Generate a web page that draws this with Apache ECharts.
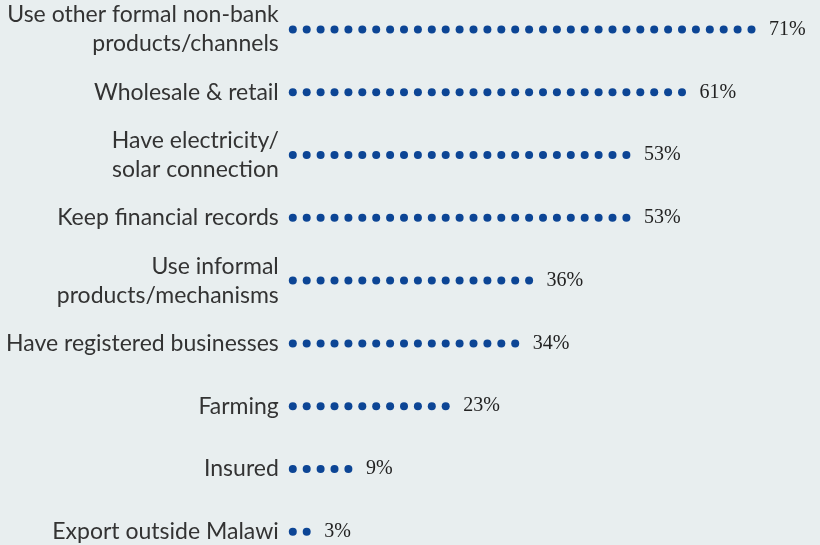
<!DOCTYPE html>
<html>
<head>
<meta charset="utf-8">
<style>
  html, body { margin: 0; padding: 0; background: #e8eeef; }
  #chart { width: 820px; height: 545px; }
</style>
<script src="https://cdn.jsdelivr.net/npm/echarts@6/dist/echarts.min.js"></script>
</head>
<body>
<div id="chart"></div>
<script>
// Share of businesses (%) by characteristic
const categories = [
  'Use other formal non-bank\nproducts/channels',
  'Wholesale & retail',
  'Have electricity/\nsolar connection',
  'Keep financial records',
  'Use informal\nproducts/mechanisms',
  'Have registered businesses',
  'Farming',
  'Insured',
  'Export outside Malawi'
];
const shares = [71, 61, 53, 53, 36, 34, 23, 9, 3];

const chart = echarts.init(document.getElementById('chart'), null, { renderer: 'canvas' });

chart.setOption({
  backgroundColor: '#e8eeef',
  animation: false,
  grid: {
    left: 288.8,
    top: -1.9,
    width: 494.5,
    height: 565,
    containLabel: false,
    outerBoundsMode: 'none'
  },
  xAxis: {
    type: 'value',
    min: 0,
    max: 77,
    show: false
  },
  yAxis: {
    type: 'category',
    inverse: true,
    data: categories,
    axisLine: { show: false },
    axisTick: { show: false },
    splitLine: { show: false },
    axisLabel: {
      margin: 10,
      color: '#333333',
      fontFamily: 'Lato',
      fontSize: 23,
      lineHeight: 29,
      align: 'right'
    }
  },
  series: [{
    // one row of dots per category, spaced evenly along the value axis
    type: 'pictorialBar',
    data: shares,
    symbol: 'circle',
    symbolSize: [8, 8],
    symbolRepeat: true,
    symbolMargin: 3.05,
    itemStyle: { color: '#0c4595' },
    label: {
      show: true,
      position: 'right',
      distance: 13.5,
      formatter: '{c}%',
      fontFamily: 'Liberation Serif',
      fontSize: 20,
      color: '#222222'
    }
  }]
});
</script>
</body>
</html>
